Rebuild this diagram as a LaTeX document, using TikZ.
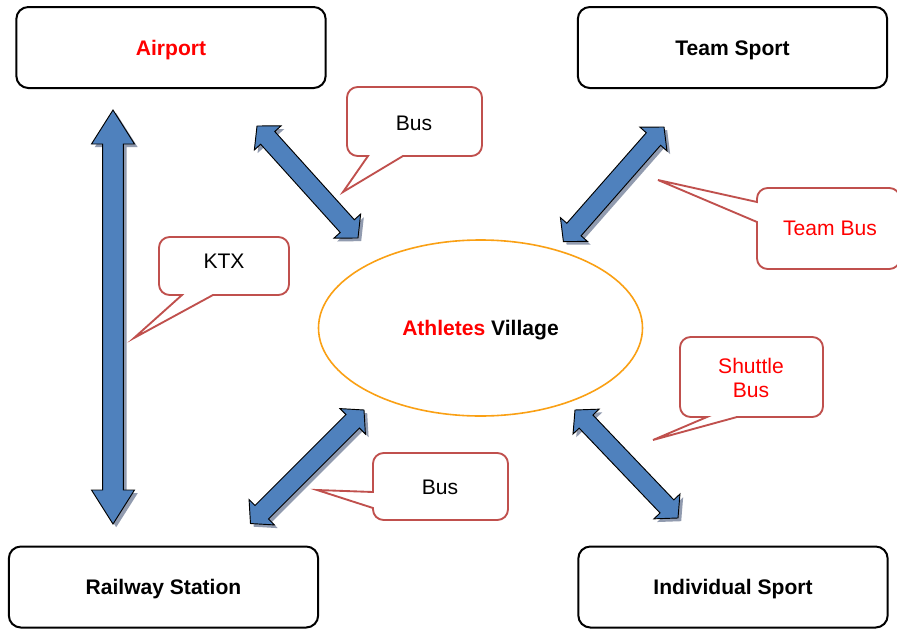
\documentclass[tikz,border=0pt]{standalone}
\usepackage{fontspec}
\setmainfont{Liberation Sans}
\usetikzlibrary{calc,shapes.geometric}
\definecolor{arrblue}{RGB}{79,129,189}
\definecolor{arrshade}{RGB}{145,155,175}
\definecolor{callred}{RGB}{192,80,77}
\definecolor{vorange}{RGB}{250,160,20}
\definecolor{tred}{RGB}{255,0,0}
\tikzset{
  txt/.style={font=\fontsize{15.8}{18}\selectfont, inner sep=0pt, text height=11.3pt, text depth=0pt},
  placebox/.style={txt, font=\fontsize{15.8}{18}\selectfont\bfseries, draw=black, line width=1.5pt, rounded corners=9pt,
    minimum width=232pt, minimum height=60.75pt},
  callout/.style={draw=callred, line width=1.4pt, fill=white, rounded corners=8pt, line join=miter},
  arrbody/.style={fill=arrblue, draw=black, line width=0.7pt, line join=miter},
  arrshadowsty/.style={fill=arrshade},
}
% #1,#2 tip coordinates; #3 shaft half width; #4 head half width; #5 head length (all px)
\newcommand\blockarrow[5]{%
  \path let \p1=(#1), \p2=(#2), \n1={atan2(\y2-\y1,\x2-\x1)}, \n2={veclen(\x2-\x1,\y2-\y1)} in
    \pgfextra{\xdef\baang{\n1}\xdef\balen{\n2}};
  \pgfmathsetmacro\balenpx{\balen/0.75}%
  \foreach \sx/\sy/\sty in {2.4/-2.4/arrshadowsty, 0/0/arrbody}{%
    \begin{scope}[shift={(#1)}, xshift=\sx pt, yshift=\sy pt, rotate=\baang, x=0.75pt, y=0.75pt]
      \path[\sty] (0,0) -- (#5,#4) -- (#5,#3) -- (\balenpx-#5,#3) -- (\balenpx-#5,#4)
        -- (\balenpx,0) -- (\balenpx-#5,-#4) -- (\balenpx-#5,-#3) -- (#5,-#3) -- (#5,-#4) -- cycle;
    \end{scope}}%
}
\begin{document}
\begin{tikzpicture}[x=0.75pt, y=-0.75pt]
\useasboundingbox (0,0) rectangle (897,629);
\clip (0,0) rectangle (897,629);
\fill[white] (0,0) rectangle (897,629);

% place boxes
\node[placebox] (airport) at (171,47.5) {\textcolor{tred}{Airport}};
\node[placebox] (team) at (732.5,47.5) {Team Sport};
\node[placebox] (rail) at (163.5,587) {Railway Station};
\node[placebox] (indiv) at (733,587) {Individual Sport};

% village
\node[ellipse, draw=vorange, line width=1.2pt, minimum width=243pt, minimum height=132pt, txt,
  font=\fontsize{15.8}{18}\selectfont\bfseries] (village) at (480.5,328) {\textcolor{tred}{Athletes} Village};

% arrow end points
\coordinate (v1) at (113,110);
\coordinate (v2) at (113,524);
\coordinate (a1) at (257,126);
\coordinate (a2) at (358,238);
\coordinate (b1) at (664,127);
\coordinate (b2) at (563,242);
\coordinate (c1) at (364,410);
\coordinate (c2) at (250,524);
\coordinate (d1) at (575,410);
\coordinate (d2) at (678,518);

\blockarrow{v1}{v2}{10.3}{21.5}{34}
\blockarrow{a1}{a2}{9.5}{18}{16}
\blockarrow{b1}{b2}{9.5}{18}{16}
\blockarrow{c1}{c2}{9.5}{18}{16}
\blockarrow{d1}{d2}{9.5}{18}{16}

% callouts
\draw[callout] (414,87) -- (482,87) -- (482,156) [sharp corners] -- (403,156) -- (343,192) -- (368,156) [rounded corners=8pt] -- (347,156) -- (347,87) -- cycle;
\node[txt] (busA) at (414,123) {Bus};

\draw[callout] (224,237) -- (289,237) -- (289,295) [sharp corners] -- (213,295) -- (134,338) -- (182,295) [rounded corners=8pt] -- (159,295) -- (159,237) -- cycle;
\node[txt] (ktx) at (224,261) {KTX};

\draw[callout] (830,188) -- (900,188) -- (900,269) -- (757,269) [sharp corners] -- (757,222) -- (658,180) -- (757,202) [rounded corners=8pt] -- (757,188) -- cycle;
\node[txt] (teambus) at (830,228) {\textcolor{tred}{Team Bus}};

\draw[callout] (751,337) -- (823,337) -- (823,417) [sharp corners] -- (737,417) -- (653,440) -- (707,417) [rounded corners=8pt] -- (680,417) -- (680,337) -- cycle;
\node[inner sep=0pt, align=center, anchor=north, font=\fontsize{15.8}{18}\selectfont, text=tred] (shuttle) at (751,358) {Shuttle\\Bus};

\draw[callout] (440,453) -- (508,453) -- (508,520) -- (373,520) [sharp corners] -- (373,508) -- (317,490) -- (373,492) [rounded corners=8pt] -- (373,453) -- cycle;
\node[txt] (busB) at (440,487) {Bus};
\end{tikzpicture}
\end{document}
